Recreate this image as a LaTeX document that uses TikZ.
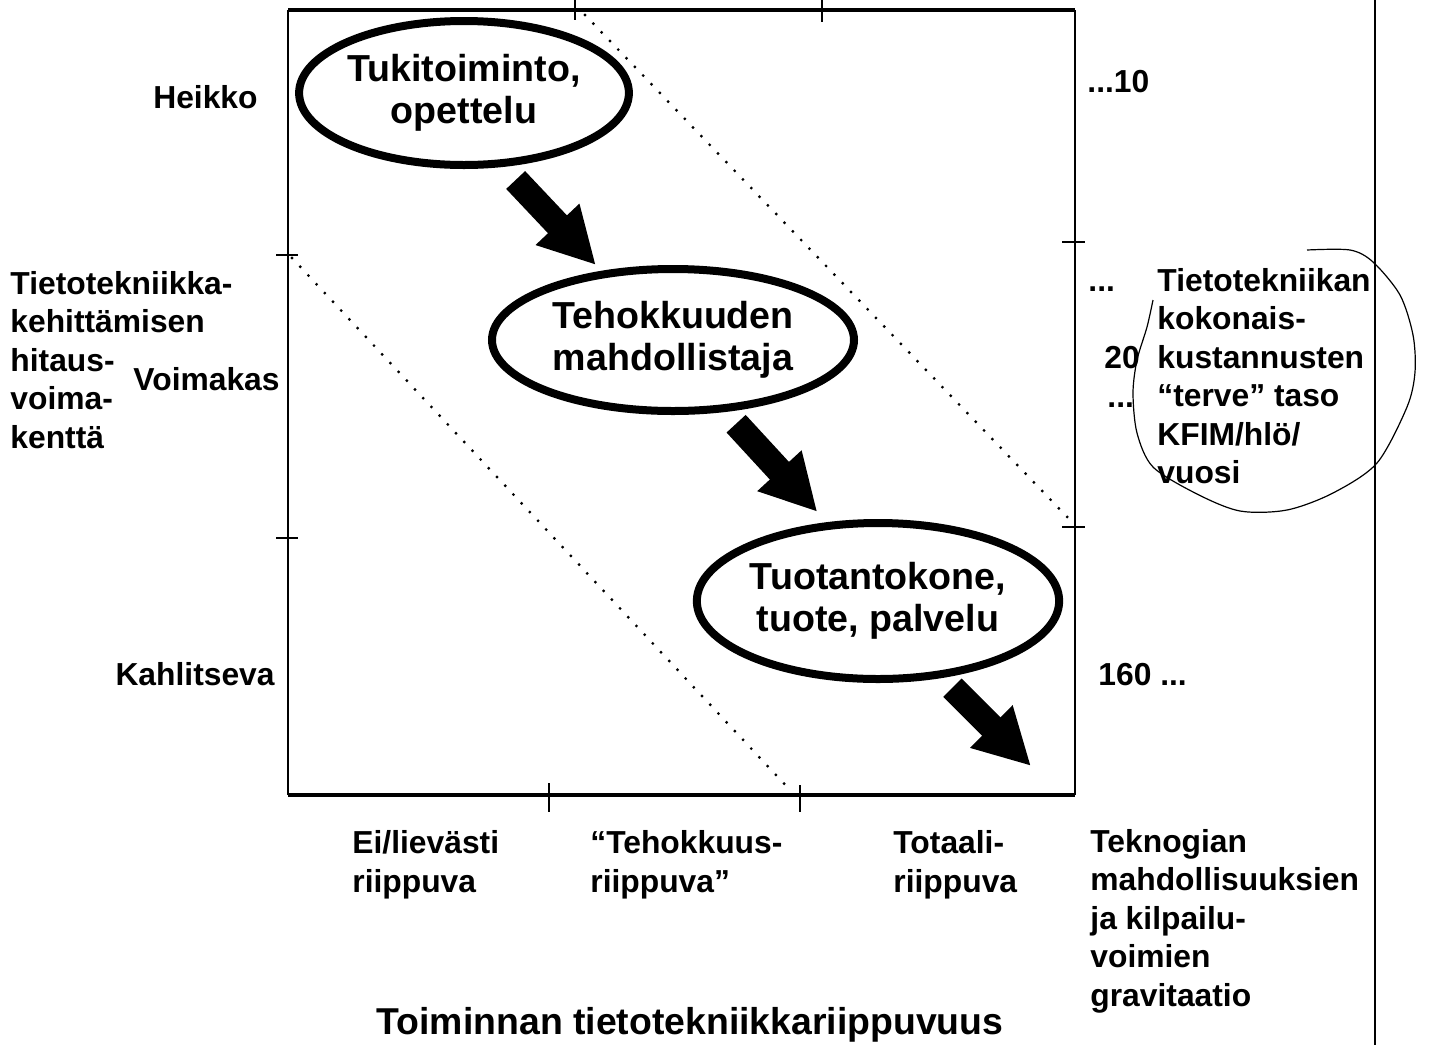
\documentclass[tikz,border=0pt]{standalone}
\usepackage{fontspec}
\setmainfont{Liberation Sans}
\usetikzlibrary{shapes.geometric, arrows.meta}

\begin{document}
\begin{tikzpicture}[x=0.5pt, y=-0.5pt,
    lbl/.style={font=\fontsize{15.9}{19.25}\selectfont\bfseries, inner sep=0pt, align=left},
    oval/.style={ellipse, draw, line width=4pt, inner sep=0pt, align=center,
        font=\fontsize{18.8}{21}\selectfont\bfseries},
    bigarrow/.style={line width=13pt, -{Triangle[length=28pt, width=28pt]}},
    dots/.style={line width=1.6pt, line cap=round, dash pattern=on 0pt off 6pt},
    tick/.style={line width=1.2pt}]
    \useasboundingbox (0,0) rectangle (1429,1045);

    % Draw frame
    \draw[line width=1.3pt] (288,10) -- (288,795);
    \draw[line width=1.3pt] (1075,10) -- (1075,795);
    \draw[line width=2pt] (288,10) -- (1075,10);
    \draw[line width=2pt] (288,795) -- (1075,795);
    \draw[line width=1pt] (1375,0) -- (1375,1045);

    % Ticks
    \draw[tick] (575,0) -- (575,20);
    \draw[tick] (822,0) -- (822,22);
    \draw[tick] (549,783) -- (549,812);
    \draw[tick] (800,785) -- (800,812);
    \foreach \y in {255,538}
        \draw[tick] (276,\y) -- (298,\y);
    \foreach \y in {242,527}
        \draw[tick] (1062,\y) -- (1085,\y);

    % Dotted band
    \draw[dots] (585,15) -- (1072,522);
    \draw[dots] (292,258) -- (790,790);

    % Stages
    \node[oval, minimum width=162pt, minimum height=72pt] (e1) at (464,93) {Tukitoiminto,\\opettelu};
    \node[oval, minimum width=181pt, minimum height=71pt] (e2) at (673,340) {Tehokkuuden\\mahdollistaja};
    \node[oval, minimum width=173pt, minimum height=78pt] (e3) at (878,601) {Tuotantokone,\\tuote, palvelu};
    \coordinate (a3) at (1031,766);

    \draw[bigarrow, shorten <=9pt, shorten >=4pt] (e1.-62) -- (e2.136);
    \draw[bigarrow, shorten <=8pt, shorten >=7pt] (e2.-54) -- (e3.123);
    \draw[bigarrow, shorten <=7pt] (e3.-50) -- (a3);

    % Left labels
    \node[lbl, anchor=east] (heikko) at (258,97) {Heikko};
    \node[lbl, anchor=east] (voimakas) at (280,379) {Voimakas};
    \node[lbl, anchor=east] (kahlitseva) at (275,674) {Kahlitseva};
    \node[lbl, anchor=west] (hitaus) at (10,360) {Tietotekniikka-\\kehittämisen\\hitaus-\\voima-\\kenttä};

    % Right labels
    \node[lbl, anchor=west] (r10) at (1087,82) {...10};
    \node[lbl, anchor=west] (rdots1) at (1088,289) {...};
    \node[lbl, anchor=west] (r20) at (1104,358) {20};
    \node[lbl, anchor=west] (rdots2) at (1107,405) {...};
    \node[lbl, anchor=west] (r160) at (1098,675) {160 ...};
    \node[lbl, anchor=west] (kustannus) at (1157,376) {Tietotekniikan\\kokonais-\\kustannusten\\“terve” taso\\KFIM/hlö/\\vuosi};
    \draw[line width=0.6pt] plot[smooth] coordinates {(1307,250) (1350,250) (1373,262) (1400,295)
        (1413,335) (1415,372) (1407,407) (1377,463) (1333,493) (1287,510) (1240,511) (1197,494)
        (1153,467) (1137,433) (1133,393) (1137,360) (1147,327) (1153,300)};

    % Bottom labels
    \node[lbl, anchor=west] (ei) at (352,865) {Ei/lievästi\\riippuva};
    \node[lbl, anchor=west] (tehok) at (590,865) {“Tehokkuus-\\riippuva”};
    \node[lbl, anchor=west] (totaali) at (893,865) {Totaali-\\riippuva};
    \node[lbl, anchor=west] (teknogia) at (1090,921) {Teknogian\\mahdollisuuksien\\ja kilpailu-\\voimien\\gravitaatio};
    \node[font=\fontsize{18.7}{22}\selectfont\bfseries, inner sep=0pt] (title) at (690,1025) {Toiminnan tietotekniikkariippuvuus};
\end{tikzpicture}
\end{document}
